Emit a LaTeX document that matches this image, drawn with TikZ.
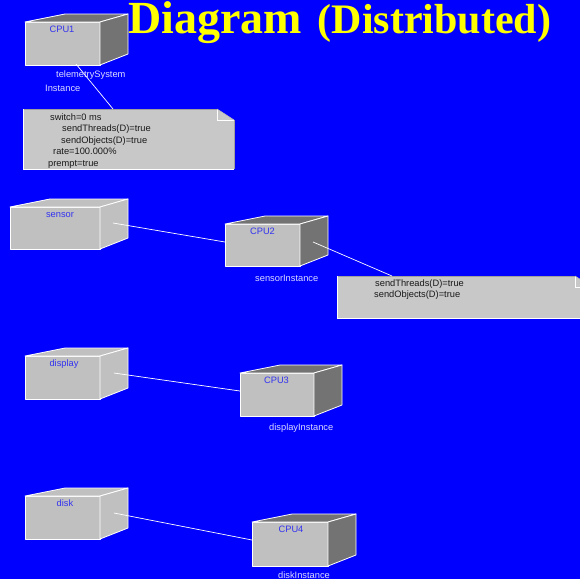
\documentclass[tikz,border=0pt]{standalone}
\usepackage{fontspec}
\setmainfont{Liberation Sans}
\newfontfamily\titlefont{Liberation Serif}

\definecolor{bgblue}{RGB}{0,0,255}
\definecolor{facegray}{RGB}{192,192,192}
\definecolor{sidegray}{RGB}{115,115,115}
\definecolor{notegray}{RGB}{200,200,200}
\definecolor{noteedge}{RGB}{160,160,160}
\definecolor{namecol}{RGB}{50,50,240}
\definecolor{instcol}{RGB}{220,220,255}
\definecolor{notetext}{RGB}{25,25,25}
\definecolor{titleyellow}{RGB}{255,255,0}

% 3-D box: #1 left, #2 top, #3 width, #4 height, #5 colour of top and side faces
\newcommand\nodebox[5]{%
  \filldraw[face, fill=facegray] (#1,#2) rectangle (#1+#3,#2+#4);
  \filldraw[face, fill=#5] (#1,#2) -- (#1+40,#2-8) -- (#1+#3+28,#2-8) -- (#1+#3,#2) -- cycle;
  \filldraw[face, fill=#5] (#1+#3,#2) -- (#1+#3+28,#2-8) -- (#1+#3+28,#2+#4-11) -- (#1+#3,#2+#4) -- cycle;
}
% note with folded corner: #1 left, #2 top, #3 right, #4 bottom
\newcommand\notebox[4]{%
  \fill[notegray] (#1,#2) -- (#3-17,#2) -- (#3,#2+11) -- (#3,#4) -- (#1,#4) -- cycle;
  \draw[noteedge, line width=0.8pt] (#1,#2) -- (#3-17,#2);
  \draw[noteedge, line width=0.8pt] (#3,#2+11) -- (#3,#4);
  \draw[white, line width=0.8pt] (#1,#2) -- (#1,#4) -- (#3,#4);
  \draw[white, line width=0.8pt] (#3-17,#2) -- (#3-17,#2+11) -- (#3,#2+11);
  \draw[noteedge!70!white, line width=0.6pt] (#3-17,#2) -- (#3,#2+11);
}

\begin{document}
\begin{tikzpicture}[x=1pt, y=-1pt,
  face/.style={draw=white, line width=0.8pt, line join=round},
  lbl/.style={font=\fontsize{9.3}{11}\selectfont, inner sep=0pt, anchor=base},
  boxname/.style={lbl, text=namecol},
  inst/.style={lbl, text=instcol, anchor=base west},
  notetxt/.style={lbl, text=notetext, anchor=base west},
  wire/.style={draw=white, line width=0.7pt}]

\useasboundingbox (0,0) rectangle (580,579);
\fill[bgblue] (0,0) rectangle (580,579);

% processors and devices
\nodebox{25}{22}{75}{43}{sidegray}
\nodebox{10}{207}{90}{42}{facegray}
\nodebox{225}{224}{75}{42}{sidegray}
\nodebox{25}{356}{75}{43}{facegray}
\nodebox{240}{373}{74}{43}{sidegray}
\nodebox{25}{496}{75}{43}{facegray}
\nodebox{252}{522}{76}{44}{sidegray}

% notes
\begin{scope}
  \clip (0,0) rectangle (580,579);
  \notebox{23}{109}{234}{169}
  \notebox{337}{276}{592}{318}
\end{scope}

% connector end points
\coordinate (cpu1-out) at (76,64);
\coordinate (note1-in) at (113,109);
\coordinate (sensor-out) at (113,223);
\coordinate (cpu2-in) at (225,242);
\coordinate (cpu2-out) at (313,242);
\coordinate (note2-in) at (392,276);
\coordinate (display-out) at (114,373);
\coordinate (cpu3-in) at (240,391);
\coordinate (disk-out) at (114,513);
\coordinate (cpu4-in) at (252,540);

\draw[wire] (cpu1-out) -- (note1-in);
\draw[wire] (sensor-out) -- (cpu2-in);
\draw[wire] (cpu2-out) -- (note2-in);
\draw[wire] (display-out) -- (cpu3-in);
\draw[wire] (disk-out) -- (cpu4-in);

% box names
\node[boxname] (cpu1) at (62,32) {CPU1};
\node[boxname] (sensor) at (60,217) {sensor};
\node[boxname] (cpu2) at (262.5,234) {CPU2};
\node[boxname] (display) at (64,366) {display};
\node[boxname] (cpu3) at (276.5,383) {CPU3};
\node[boxname] (disk) at (65,506) {disk};
\node[boxname] (cpu4) at (291,532) {CPU4};

% instance names
\node[inst] (tsys) at (56,77.5) {telemetrySystem};
\node[inst] (tsysi) at (45,91) {Instance};
\node[inst] (sensori) at (255,281) {sensorInstance};
\node[inst] (displayi) at (269,430) {displayInstance};
\node[inst] (diski) at (278,578.5) {diskInstance};

% note texts
\node[notetxt] (n1a) at (50,120) {switch=0 ms};
\node[notetxt] (n1b) at (62,131.5) {sendThreads(D)=true};
\node[notetxt] (n1c) at (61,143) {sendObjects(D)=true};
\node[notetxt] (n1d) at (53,154.5) {rate=100.000\%};
\node[notetxt] (n1e) at (48,166) {prempt=true};
\node[notetxt] (n2a) at (375,286) {sendThreads(D)=true};
\node[notetxt] (n2b) at (374,297.5) {sendObjects(D)=true};

% title
\node[anchor=base west, inner sep=0pt, text=titleyellow] (title) at (128,33.5)
  {\titlefont\bfseries\fontsize{46}{46}\selectfont Diagram\hspace{16pt}\fontsize{42}{42}\selectfont(Distributed)};
\end{tikzpicture}
\end{document}
